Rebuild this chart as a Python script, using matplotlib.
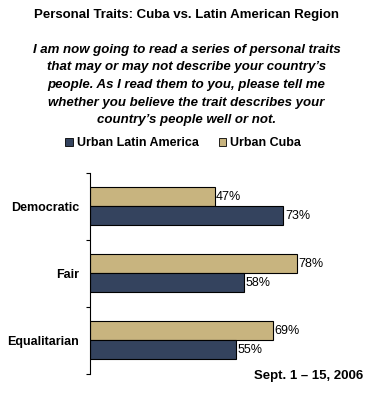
import matplotlib
matplotlib.use("Agg")
import matplotlib.pyplot as plt
from matplotlib.patches import Patch

plt.rcParams["font.family"] = ["Liberation Sans", "DejaVu Sans"]

TRAITS = ["Democratic", "Fair", "Equalitarian"]
LATAM = [73, 58, 55]
CUBA = [47, 78, 69]
SERIES = ["Urban Latin America", "Urban Cuba"]
COLORS = ["#34435E", "#C8B47F"]

TITLE = "Personal Traits: Cuba vs. Latin American Region"
QUESTION = ("I am now going to read a series of personal traits\n"
            "that may or may not describe your country\u2019s\n"
            "people. As I read them to you, please tell me\n"
            "whether you believe the trait describes your\n"
            "country\u2019s people well or not.")
DATE = "Sept. 1 \u2013 15, 2006"

W, H = 373, 397
fig = plt.figure(figsize=(W / 100, H / 100), dpi=100)
ax = fig.add_axes([90 / W, 1 - 373.5 / H, 265 / W, 200.8 / H])

bh = 0.284
ys = range(len(TRAITS))
cuba_y = [y - bh / 2 for y in ys]
lat_y = [y + bh / 2 for y in ys]
ax.barh(cuba_y, CUBA, height=bh, color=COLORS[1], edgecolor="black", linewidth=0.8)
ax.barh(lat_y, LATAM, height=bh, color=COLORS[0], edgecolor="black", linewidth=0.8)

for y, v in zip(cuba_y, CUBA):
    ax.text(v + 0.6, y, f"{v}%", va="center", ha="left", fontsize=9)
for y, v in zip(lat_y, LATAM):
    ax.text(v + 0.6, y, f"{v}%", va="center", ha="left", fontsize=9)

ax.set_xlim(0, 100)
ax.set_ylim(len(TRAITS) - 0.5, -0.5)
ax.set_yticks(list(ys))
ax.set_yticklabels(TRAITS, fontsize=9, fontweight="bold")
ax.tick_params(axis="y", which="major", length=0, pad=8)
ax.set_yticks([i - 0.5 for i in range(len(TRAITS) + 1)], minor=True)
ax.tick_params(axis="y", which="minor", length=3, width=0.8, direction="out")
ax.set_xticks([])
for s in ["top", "right", "bottom"]:
    ax.spines[s].set_visible(False)
ax.spines["left"].set_linewidth(0.8)

fig.text(0.5, 1 - 15 / H, TITLE, ha="center", va="center", fontsize=9.5, fontweight="bold")
fig.text(0.5, 1 - 85 / H, QUESTION, ha="center", va="center", fontsize=9.5,
         fontweight="bold", fontstyle="italic", linespacing=1.62)

handles = [Patch(facecolor=c, edgecolor="black", linewidth=0.6) for c in COLORS]
fig.legend(handles, SERIES, loc="center", bbox_to_anchor=(183 / W, 1 - 143 / H),
           ncol=2, frameon=False, handlelength=0.6, handleheight=0.6,
           handletextpad=0.3, columnspacing=1.6,
           prop={"size": 9, "weight": "bold"})

fig.text(363 / W, 1 - 376 / H, DATE, ha="right", va="center", fontsize=9.5, fontweight="bold")

fig.savefig("out.png", dpi=100)
